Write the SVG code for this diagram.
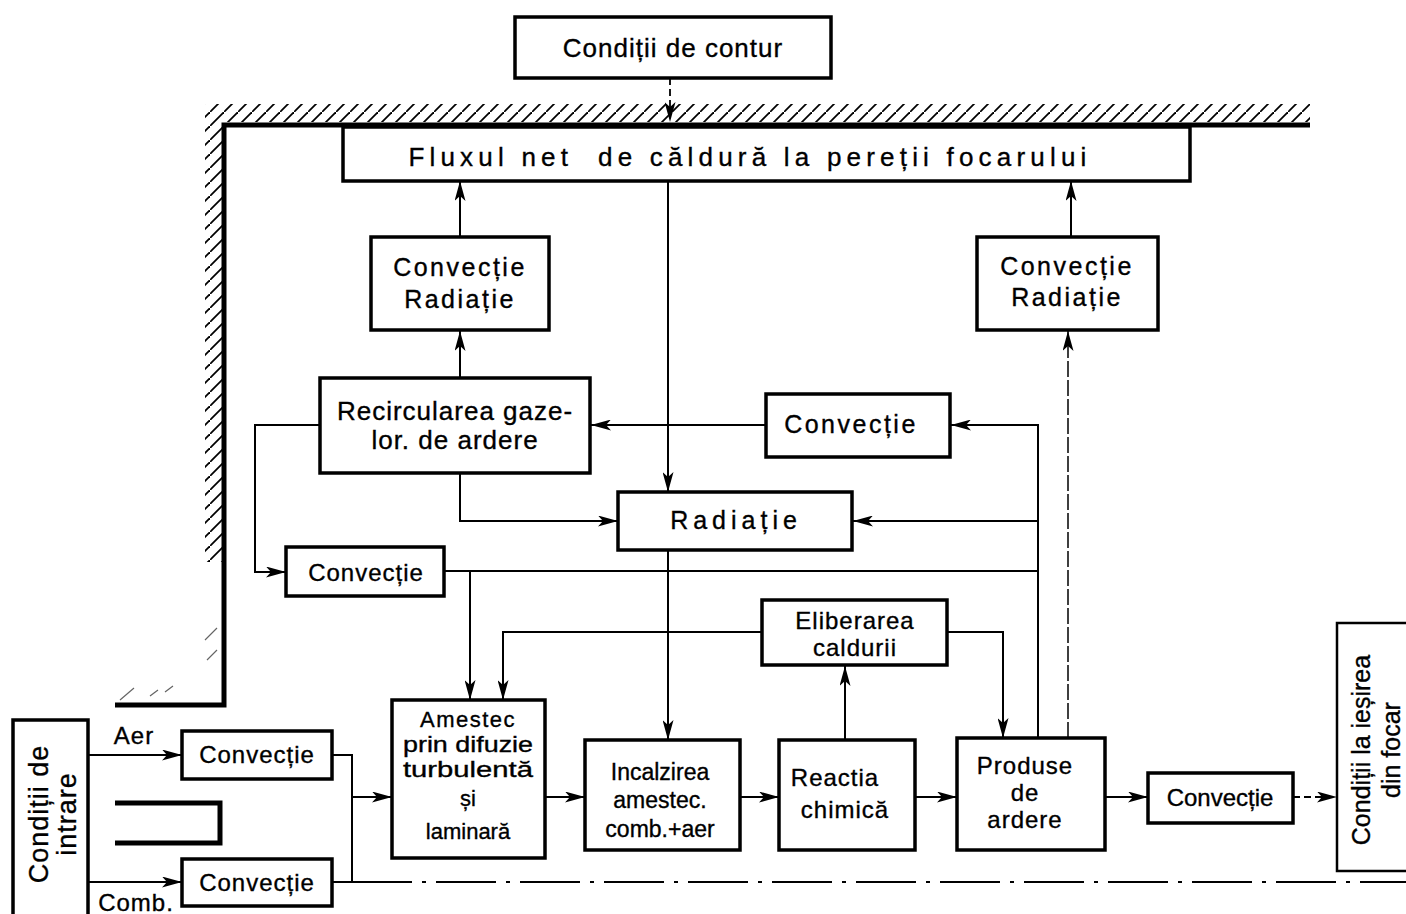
<svg xmlns="http://www.w3.org/2000/svg" width="1406" height="914" viewBox="0 0 1406 914">
  <style>
    .box { fill: #fff; stroke: #000; stroke-width: 3.5; }
    .wire { fill: none; stroke: #000; stroke-width: 2; }
    .dash { fill: none; stroke: #000; stroke-width: 1.8; stroke-dasharray: 7 4; }
    .dashdot { fill: none; stroke: #000; stroke-width: 2; stroke-dasharray: 60 10 4 10; }
    .wall { fill: none; stroke: #000; stroke-width: 5; stroke-linejoin: miter; }
    text { font-family: "Liberation Sans", Arial, sans-serif; fill: #000; stroke: #000; stroke-width: 0.35; text-anchor: middle; }
    .t26 { font-size: 26px; letter-spacing: 1px; }
    .t24 { font-size: 24px; letter-spacing: 1px; }
    .wide { font-size: 25px; letter-spacing: 2.5px; }
  </style>
  <defs>
    <marker id="ah" viewBox="0 0 20 11" refX="20" refY="5.5" markerWidth="20" markerHeight="11" markerUnits="userSpaceOnUse" orient="auto">
      <path d="M0,0 L20,5.5 L0,11 L5,5.5 z" fill="#000"/>
    </marker>
    <pattern id="hatch" patternUnits="userSpaceOnUse" width="14" height="14">
      <path d="M-2,16 L16,-2" stroke="#000" stroke-width="1.8"/>
    </pattern>
  </defs>

  <rect width="1406" height="914" fill="#fff"/>

  <!-- furnace wall with hatching -->
  <g id="wall">
    <rect x="205" y="104" width="1105" height="18" fill="url(#hatch)"/>
    <rect x="205" y="122" width="17" height="440" fill="url(#hatch)"/>
    <path d="M205,640 l12,-12 M207,660 l10,-10 M120,700 l14,-12 M150,696 l8,-6 M165,692 l8,-6" stroke="#000" stroke-width="1.2" opacity="0.6"/>
    <path class="wall" d="M115,705 L224,705 L224,125 L1310,125"/>
  </g>

  <!-- connectors -->
  <g id="connectors">
    <path class="dash" d="M670,78 L670,122" marker-end="url(#ah)"/>
    <path class="wire" d="M460,237 L460,181" marker-end="url(#ah)"/>
    <path class="wire" d="M460,378 L460,331" marker-end="url(#ah)"/>
    <path class="wire" d="M1071,237 L1071,181" marker-end="url(#ah)"/>
    <path fill="none" stroke="#000" stroke-width="1.5" stroke-dasharray="16 3" d="M1068,738 L1068,331" marker-end="url(#ah)"/>
    <path class="wire" d="M766,425 L591,425" marker-end="url(#ah)"/>
    <path class="wire" d="M668,181 L668,492" marker-end="url(#ah)"/>
    <path class="wire" d="M320,425 L255,425 L255,572 L286,572" marker-end="url(#ah)"/>
    <path class="wire" d="M460,473 L460,521 L618,521" marker-end="url(#ah)"/>
    <path class="wire" d="M1038,738 L1038,425 L951,425" marker-end="url(#ah)"/>
    <path class="wire" d="M1038,521 L853,521" marker-end="url(#ah)"/>
    <path class="wire" d="M444,571 L1038,571"/>
    <path class="wire" d="M470,571 L470,700" marker-end="url(#ah)"/>
    <path class="wire" d="M668,550 L668,740" marker-end="url(#ah)"/>
    <path class="wire" d="M762,632 L503,632 L503,700" marker-end="url(#ah)"/>
    <path class="wire" d="M947,632 L1003,632 L1003,738" marker-end="url(#ah)"/>
    <path class="wire" d="M845,740 L845,666" marker-end="url(#ah)"/>
    <path class="wire" d="M545,797 L585,797" marker-end="url(#ah)"/>
    <path class="wire" d="M740,797 L779,797" marker-end="url(#ah)"/>
    <path class="wire" d="M915,797 L957,797" marker-end="url(#ah)"/>
    <path class="wire" d="M1105,797 L1148,797" marker-end="url(#ah)"/>
    <path class="dash" d="M1293,797 L1337,797" marker-end="url(#ah)"/>
    <path class="wire" d="M88,755 L182,755" marker-end="url(#ah)"/>
    <path class="wire" d="M88,882 L182,882" marker-end="url(#ah)"/>
    <path class="wire" d="M332,755 L352,755 L352,882 M332,882 L352,882"/>
    <path class="wire" d="M352,797 L392,797" marker-end="url(#ah)"/>
    <path class="dashdot" d="M352,882 L1406,882"/>
    <!-- inlet divider -->
    <path fill="none" stroke="#000" stroke-width="5" d="M115,803 L220,803 L220,843 L115,843"/>
    <text x="134" y="744" class="t24">Aer</text>
    <text x="136" y="911" class="t24">Comb.</text>
  </g>

  <g id="n-contur">
    <rect class="box" x="515" y="17" width="316" height="61"/>
    <text x="673" y="57" class="t26">Condiții de contur</text>
  </g>

  <g id="n-flux">
    <rect class="box" x="343" y="127" width="847" height="54"/>
    <text x="750" y="166" font-size="26" letter-spacing="5.2" xml:space="preserve">Fluxul net  de căldură la pereții focarului</text>
  </g>

  <g id="n-convrad-l">
    <rect class="box" x="371" y="237" width="178" height="93"/>
    <text x="460" y="276" class="wide">Convecție</text>
    <text x="460" y="308" class="wide">Radiație</text>
  </g>

  <g id="n-convrad-r">
    <rect class="box" x="977" y="237" width="181" height="93"/>
    <text x="1067" y="275" class="wide">Convecție</text>
    <text x="1067" y="306" class="wide">Radiație</text>
  </g>

  <g id="n-recirc">
    <rect class="box" x="320" y="378" width="270" height="95"/>
    <text x="455" y="420" class="t26">Recircularea gaze-</text>
    <text x="455" y="449" class="t26">lor. de ardere</text>
  </g>

  <g id="n-conv-sus">
    <rect class="box" x="766" y="394" width="184" height="63"/>
    <text x="851" y="433" class="wide">Convecție</text>
  </g>

  <g id="n-radiatie">
    <rect class="box" x="618" y="492" width="234" height="58"/>
    <text x="736" y="529" font-size="25" letter-spacing="5">Radiație</text>
  </g>

  <g id="n-conv-jos">
    <rect class="box" x="286" y="547" width="158" height="49"/>
    <text x="366" y="581" class="t24">Convecție</text>
  </g>

  <g id="n-eliberare">
    <rect class="box" x="762" y="600" width="185" height="65"/>
    <text x="855" y="629" class="t24">Eliberarea</text>
    <text x="855" y="656" class="t24">caldurii</text>
  </g>

  <g id="n-amestec">
    <rect class="box" x="392" y="700" width="153" height="158"/>
    <text x="468" y="727" font-size="22" letter-spacing="1.5">Amestec</text>
    <text x="468" y="752" font-size="22" textLength="130" lengthAdjust="spacingAndGlyphs">prin difuzie</text>
    <text x="468" y="777" font-size="22" textLength="130" lengthAdjust="spacingAndGlyphs">turbulentă</text>
    <text x="468" y="806" font-size="22">și</text>
    <text x="468" y="839" font-size="22">laminară</text>
  </g>

  <g id="n-incalzire">
    <rect class="box" x="585" y="740" width="155" height="110"/>
    <text x="660" y="780" font-size="23">Incalzirea</text>
    <text x="660" y="808" font-size="23">amestec.</text>
    <text x="660" y="837" font-size="23">comb.+aer</text>
  </g>

  <g id="n-reactie">
    <rect class="box" x="779" y="740" width="136" height="110"/>
    <text x="835" y="786" class="t24">Reactia</text>
    <text x="845" y="818" class="t24">chimică</text>
  </g>

  <g id="n-produse">
    <rect class="box" x="957" y="738" width="148" height="112"/>
    <text x="1025" y="774" class="t24">Produse</text>
    <text x="1025" y="801" class="t24">de</text>
    <text x="1025" y="828" class="t24">ardere</text>
  </g>

  <g id="n-conv-iesire">
    <rect class="box" x="1148" y="773" width="145" height="50"/>
    <text x="1220" y="806" font-size="24">Convecție</text>
  </g>

  <g id="n-iesire">
    <rect class="box" x="1337" y="623" width="80" height="248" style="stroke-width:2.5"/>
    <text transform="translate(1370,750) rotate(-90)" font-size="25">Condiții la ieșirea</text>
    <text transform="translate(1400,750) rotate(-90)" font-size="25">din focar</text>
  </g>

  <g id="n-intrare">
    <rect class="box" x="13" y="720" width="75" height="204"/>
    <text transform="translate(48,814) rotate(-90)" font-size="27" letter-spacing="1">Condiții de</text>
    <text transform="translate(76,814) rotate(-90)" font-size="27" letter-spacing="1">intrare</text>
  </g>

  <g id="n-conv-aer">
    <rect class="box" x="182" y="731" width="150" height="48"/>
    <text x="257" y="763" class="t24">Convecție</text>
  </g>

  <g id="n-conv-comb">
    <rect class="box" x="182" y="859" width="150" height="47"/>
    <text x="257" y="891" class="t24">Convecție</text>
  </g>
</svg>
